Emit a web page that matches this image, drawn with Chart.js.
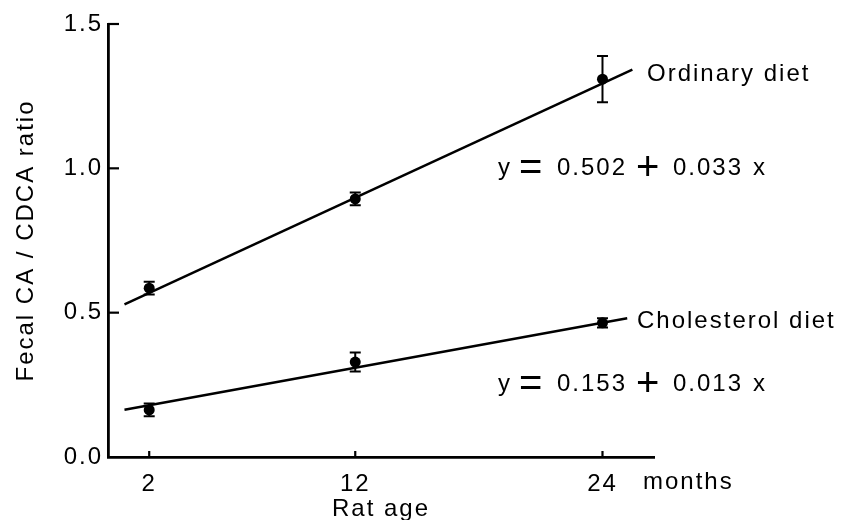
<!DOCTYPE html>
<html>
<head>
<meta charset="utf-8">
<script src="https://cdn.jsdelivr.net/npm/chart.js@4/dist/chart.umd.min.js"></script>
<style>
  html, body { margin: 0; padding: 0; background: #fff; }
  #wrap { width: 856px; height: 520px; }
</style>
</head>
<body>
<div id="wrap"><canvas id="chart" width="856" height="520"></canvas></div>
<script>
// values
const ages = [2, 12, 24];
const ageTicks = [2, 12, 24];
const ratioTicks = [0, 0.5, 1.0, 1.5];

const ordinaryMean = [0.585, 0.894, 1.309];
const ordinaryErr = [0.022, 0.022, 0.08];
const cholMean = [0.163, 0.329, 0.465];
const cholErr = [0.022, 0.033, 0.016];

// regression lines as printed: y = a + b x, drawn between start and end age
const fitIntercept = [0.502, 0.153];
const fitSlope = [0.033, 0.013];
const fitStart = [0.8, 0.8];
const fitEnd = [25.45, 25.2];

const seriesNames = ['Ordinary diet', 'Cholesterol diet'];
const equations = [
  ['y', '=', '0.502', '+', '0.033', 'x'],
  ['y', '=', '0.153', '+', '0.013', 'x']
];

const FONT = '"Liberation Sans", Arial, Helvetica, sans-serif';
const INK = '#000';

function fitPoints(i) {
  return [fitStart[i], fitEnd[i]].map(x => ({ x: x, y: fitIntercept[i] + fitSlope[i] * x }));
}
function pts(means) {
  return ages.map((a, i) => ({ x: a, y: means[i] }));
}

function setSpacing(chart) {
  chart.ctx.letterSpacing = '2px';
}

// error bars, inward tick marks and the text put on the plot
const decorations = {
  id: 'decorations',
  beforeUpdate: setSpacing,
  beforeLayout: setSpacing,
  beforeDraw: setSpacing,
  afterDatasetsDraw(chart) {
    const ctx = chart.ctx;
    const xs = chart.scales.x, ys = chart.scales.y;
    ctx.save();
    ctx.strokeStyle = INK;
    ctx.fillStyle = INK;

    // error bars
    ctx.lineWidth = 2;
    [[ordinaryMean, ordinaryErr], [cholMean, cholErr]].forEach(([m, e]) => {
      ages.forEach((a, i) => {
        const px = xs.getPixelForValue(a);
        const top = ys.getPixelForValue(m[i] + e[i]);
        const bot = ys.getPixelForValue(m[i] - e[i]);
        ctx.beginPath();
        ctx.moveTo(px, top); ctx.lineTo(px, bot);
        ctx.moveTo(px - 5.5, top); ctx.lineTo(px + 5.5, top);
        ctx.moveTo(px - 5.5, bot); ctx.lineTo(px + 5.5, bot);
        ctx.stroke();
      });
    });

    // inward ticks
    const area = chart.chartArea;
    ctx.lineWidth = 2.2;
    ratioTicks.forEach(v => {
      const py = ys.getPixelForValue(v);
      if (v === 0) return;
      ctx.beginPath();
      ctx.moveTo(area.left, py); ctx.lineTo(area.left + 11, py);
      ctx.stroke();
    });
    ageTicks.forEach(v => {
      const px = xs.getPixelForValue(v);
      ctx.beginPath();
      ctx.moveTo(px, area.bottom); ctx.lineTo(px, area.bottom - 6);
      ctx.stroke();
    });

    // labels
    ctx.letterSpacing = '2px';
    ctx.textBaseline = 'middle';
    ctx.textAlign = 'left';
    ctx.font = '24px ' + FONT;
    ctx.fillText(seriesNames[0], 647, 74);
    ctx.fillText(seriesNames[1], 637, 321);
    ctx.fillText('months', 643, xs.bottom - 38);

    // equations, spaced like the original typesetting
    const eqY = [168, 384];
    const tokenX = [498, 519, 557, 636, 673, 753];
    equations.forEach((tokens, k) => {
      tokens.forEach((t, j) => {
        const big = (t === '=' || t === '+');
        ctx.font = (big ? '40px ' : '24px ') + FONT;
        ctx.letterSpacing = big ? '0px' : '2px';
        ctx.fillText(t, tokenX[j], eqY[k] + (big ? 1 : 0));
      });
    });
    ctx.restore();
  }
};

new Chart(document.getElementById('chart'), {
  type: 'scatter',
  data: {
    datasets: [
      { data: fitPoints(0), showLine: true, borderColor: INK, borderWidth: 2.5, pointRadius: 0 },
      { data: fitPoints(1), showLine: true, borderColor: INK, borderWidth: 2.5, pointRadius: 0 },
      { data: pts(ordinaryMean), pointRadius: 5.5, backgroundColor: INK, borderColor: INK, borderWidth: 0 },
      { data: pts(cholMean), pointRadius: 5.5, backgroundColor: INK, borderColor: INK, borderWidth: 0 }
    ]
  },
  options: {
    responsive: false,
    animation: false,
    layout: { padding: { left: 0, right: 202, top: 24, bottom: 0 } },
    plugins: { legend: { display: false }, tooltip: { enabled: false } },
    scales: {
      x: {
        type: 'linear',
        min: 0,
        max: 26.5,
        afterBuildTicks: s => { s.ticks = ageTicks.map(v => ({ value: v })); },
        afterFit: s => { s.height = 63; },
        grid: { display: true, drawOnChartArea: false, drawTicks: false },
        border: { display: true, color: INK, width: 2.8 },
        ticks: { color: INK, font: { size: 24, family: FONT }, padding: 13, maxRotation: 0 },
        title: { display: true, text: 'Rat age', color: INK, font: { size: 24, family: FONT }, padding: { top: 0, bottom: -4 } }
      },
      y: {
        min: 0,
        max: 1.5,
        afterBuildTicks: s => { s.ticks = ratioTicks.map(v => ({ value: v })); },
        afterFit: s => { s.width = 108; },
        grid: { display: true, drawOnChartArea: false, drawTicks: false },
        border: { display: true, color: INK, width: 2.8 },
        ticks: { color: INK, font: { size: 24, family: FONT }, padding: 5, callback: v => v.toFixed(1) },
        title: { display: true, text: 'Fecal CA / CDCA ratio', color: INK, font: { size: 24, family: FONT }, padding: { top: 12, bottom: 0 } }
      }
    }
  },
  plugins: [decorations]
});
</script>
</body>
</html>
